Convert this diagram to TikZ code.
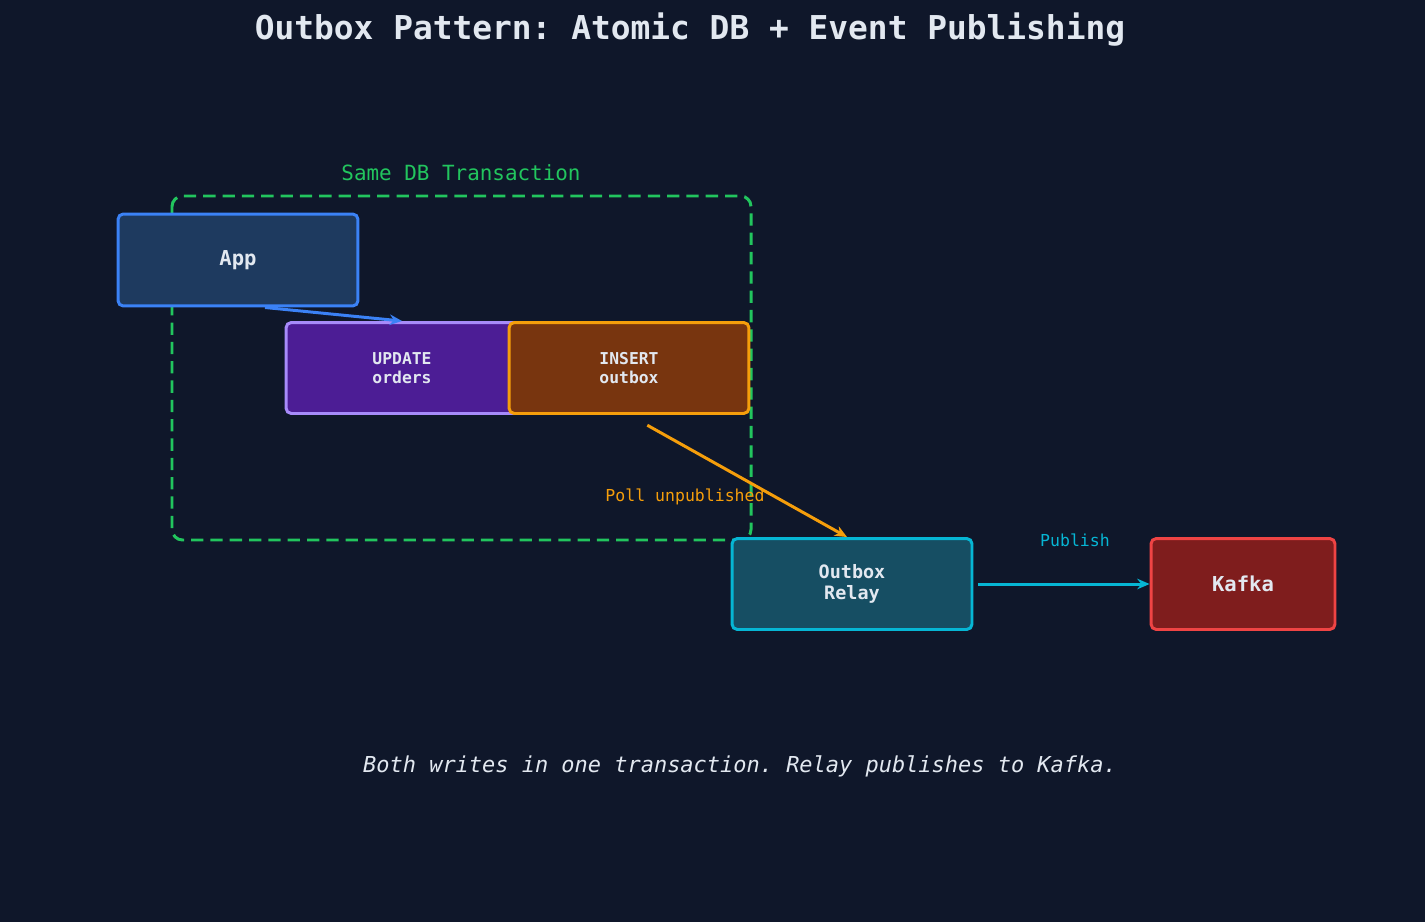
\documentclass[tikz,border=0pt]{standalone}
\usepackage{fontspec}
\setmonofont{DejaVu Sans Mono}
\usetikzlibrary{arrows.meta}
\definecolor{bgc}{HTML}{0F172A}
\definecolor{txt}{HTML}{E2E8F0}
\definecolor{grn}{HTML}{22C55E}
\definecolor{appf}{HTML}{1E3A5F}\definecolor{appd}{HTML}{3B82F6}
\definecolor{updf}{HTML}{4C1D95}\definecolor{updd}{HTML}{A78BFA}
\definecolor{insf}{HTML}{78350F}\definecolor{insd}{HTML}{F59E0B}
\definecolor{relf}{HTML}{164E63}\definecolor{reld}{HTML}{06B6D4}
\definecolor{kafd}{HTML}{EF4444}\definecolor{kaff}{HTML}{7F1D1D}
\tikzset{
  box/.style={draw, line width=1.7pt, rounded corners=3pt, align=center,
    text=txt, font=\ttfamily\bfseries, inner sep=0pt},
  arr/.style={line width=1.7pt, -{Stealth[length=7pt,width=6pt]}}
}
\begin{document}
\begin{tikzpicture}[x=0.02cm, y=-0.02cm]
  \fill[bgc] (0,0) rectangle (1425,922);
  \node[txt, font=\ttfamily\bfseries\fontsize{18.7}{20}\selectfont] (title) at (690,30) {Outbox Pattern: Atomic DB + Event Publishing};
  % transaction frame
  \draw[grn, line width=1.7pt, dash pattern=on 7pt off 4pt, rounded corners=6pt] (172,196) rectangle (751,540);
  \node[grn, font=\ttfamily\fontsize{11.9}{13}\selectfont] (txlabel) at (461,173) {Same DB Transaction};
  % boxes
  \node[box, fill=appf, draw=appd, minimum width=4.8cm, minimum height=1.84cm, font=\ttfamily\bfseries\fontsize{11.7}{13}\selectfont] (app) at (238,260) {App};
  \node[box, fill=updf, draw=updd, minimum width=4.64cm, minimum height=1.82cm, font=\ttfamily\bfseries\fontsize{9.3}{11}\selectfont] (update) at (402,368) {UPDATE\\orders};
  \node[box, fill=insf, draw=insd, minimum width=4.8cm, minimum height=1.82cm, font=\ttfamily\bfseries\fontsize{9.3}{11}\selectfont] (insert) at (629,368) {INSERT\\outbox};
  \node[box, fill=relf, draw=reld, minimum width=4.8cm, minimum height=1.82cm, font=\ttfamily\bfseries\fontsize{10.5}{12}\selectfont] (relay) at (852,584) {Outbox\\Relay};
  \node[box, fill=kaff, draw=kafd, minimum width=3.68cm, minimum height=1.82cm, font=\ttfamily\bfseries\fontsize{11.7}{13}\selectfont] (kafka) at (1243,584) {Kafka};
  % connectors
  \draw[arr, appd] ([xshift=0.54cm]app.south) -- (update.north);
  \draw[arr, insd, shorten <=0.42cm] (insert.south) -- ([xshift=-0.1cm]relay.north);
  \draw[arr, reld, shorten <=0.1cm] (relay.east) -- (kafka.west);
  \node[insd, font=\ttfamily\fontsize{9.4}{11}\selectfont] (poll) at (685,497) {Poll unpublished};
  \node[reld, font=\ttfamily\fontsize{9.4}{11}\selectfont] (pub) at (1075,540) {Publish};
  \node[txt, font=\ttfamily\itshape\fontsize{12.5}{14}\selectfont] (foot) at (740,766) {Both writes in one transaction. Relay publishes to Kafka.};
\end{tikzpicture}
\end{document}
